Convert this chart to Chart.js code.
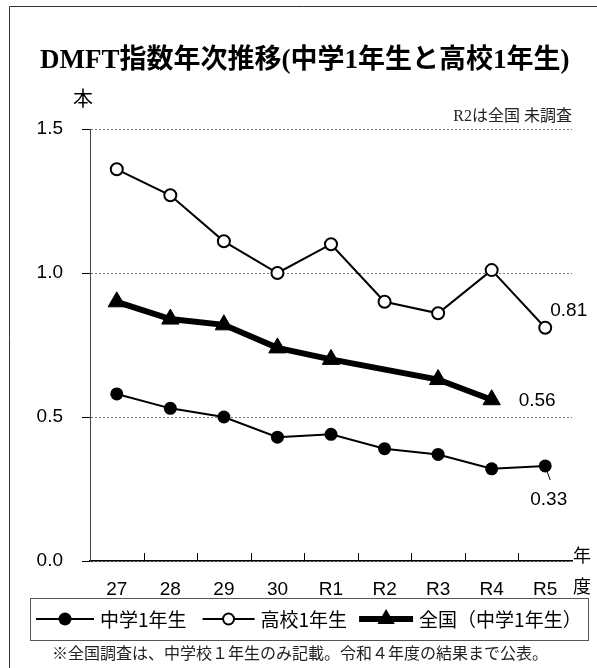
<!DOCTYPE html>
<html lang="ja">
<head>
<meta charset="utf-8">
<title>DMFT指数年次推移</title>
<script src="https://cdn.jsdelivr.net/npm/chart.js"></script>
<style>
  body { margin: 0; background: #fff; }
  canvas { display: block; }
</style>
</head>
<body>
<canvas id="myChart" width="597" height="668"></canvas>
<script>
"use strict";
const years = ["27", "28", "29", "30", "R1", "R2", "R3", "R4", "R5"];
const juniorHigh = [0.58, 0.53, 0.50, 0.43, 0.44, 0.39, 0.37, 0.32, 0.33];
const highSchool = [1.36, 1.27, 1.11, 1.00, 1.10, 0.90, 0.86, 1.01, 0.81];
const nationwide = [0.90, 0.84, 0.82, 0.74, 0.70, null, 0.63, 0.56, null];
const yTicks = [0, 0.5, 1.0, 1.5];
const seriesNames = ["中学1年生", "高校1年生", "全国（中学1年生）"];

const titleText = "DMFT指数年次推移(中学1年生と高校1年生)";
const noteText = "R2は全国 未調査";
const footText = "※全国調査は、中学校１年生のみ記載。令和４年度の結果まで公表。";

const sans = "'Liberation Sans', 'Noto Sans CJK JP', sans-serif";
const jp = "'Noto Sans CJK JP', sans-serif";

// labels at end of lines: dataset index, point index, dx, dy
const endLabels = [
    { ds: 1, i: 8, dx: 5, dy: -17 },
    { ds: 2, i: 7, dx: 27, dy: 1 },
    { ds: 0, i: 8, dx: -15, dy: 34 }
];

function drawMarker(ctx, style, x, y) {
    ctx.save();
    ctx.strokeStyle = "#000";
    ctx.fillStyle = "#000";
    if (style === "dot") {
        ctx.beginPath();
        ctx.arc(x, y, 6.5, 0, Math.PI * 2);
        ctx.fill();
    } else if (style === "ring") {
        ctx.beginPath();
        ctx.arc(x, y, 5.5, 0, Math.PI * 2);
        ctx.fillStyle = "#fff";
        ctx.fill();
        ctx.lineWidth = 2;
        ctx.stroke();
    } else {
        const r = 10;
        ctx.beginPath();
        ctx.moveTo(x, y - r);
        ctx.lineTo(x + r * 0.866, y + r / 2);
        ctx.lineTo(x - r * 0.866, y + r / 2);
        ctx.closePath();
        ctx.fill();
    }
    ctx.restore();
}

const extras = {
    id: "extras",
    afterDraw(chart) {
        const ctx = chart.ctx;
        const area = chart.chartArea;
        const x = chart.scales.x;
        ctx.save();

        // frame
        ctx.strokeStyle = "#333";
        ctx.lineWidth = 1;
        ctx.beginPath();
        ctx.moveTo(9.5, 668);
        ctx.lineTo(9.5, 6.5);
        ctx.lineTo(597, 6.5);
        ctx.stroke();

        // x ticks pointing up, between categories
        ctx.strokeStyle = "#000";
        ctx.beginPath();
        for (let i = 1; i < years.length; i++) {
            const px = Math.round(x.getPixelForValue(i - 0.5)) + 0.5;
            ctx.moveTo(px, area.bottom);
            ctx.lineTo(px, area.bottom - 8);
        }
        ctx.stroke();

        // title
        ctx.fillStyle = "#000";
        ctx.textBaseline = "alphabetic";
        ctx.textAlign = "left";
        let size = 26;
        ctx.font = "bold " + size + "px 'Liberation Serif', 'Noto Sans CJK JP', serif";
        size = size * 529 / ctx.measureText(titleText).width;
        ctx.font = "bold " + size.toFixed(1) + "px 'Liberation Serif', 'Noto Sans CJK JP', serif";
        ctx.fillText(titleText, 40, 68);

        // unit and axis words
        ctx.textBaseline = "middle";
        ctx.textAlign = "center";
        ctx.font = "20px " + jp;
        ctx.fillText("本", 83, 98);
        ctx.font = "18px " + jp;
        ctx.fillText("年", 582, 555);
        ctx.fillText("度", 582, 586);

        ctx.textAlign = "right";
        ctx.fillStyle = "#222";
        ctx.font = "16px 'Liberation Serif', 'Noto Sans CJK JP', serif";
        ctx.fillText(noteText, area.right, 117);

        // end values
        ctx.fillStyle = "#000";
        ctx.textAlign = "left";
        ctx.font = "19px " + sans;
        const sets = [juniorHigh, highSchool, nationwide];
        endLabels.forEach(function (lab) {
            const pt = chart.getDatasetMeta(lab.ds).data[lab.i];
            ctx.fillText(sets[lab.ds][lab.i].toFixed(2), pt.x + lab.dx, pt.y + lab.dy);
        });
        const last = chart.getDatasetMeta(0).data[8];
        ctx.beginPath();
        ctx.moveTo(last.x + 2, last.y + 6);
        ctx.lineTo(last.x + 5, last.y + 14);
        ctx.stroke();

        // legend box
        ctx.strokeStyle = "#555";
        ctx.lineWidth = 1;
        ctx.strokeRect(30.5, 598.5, 558, 42);
        ctx.font = "19px " + jp;
        const styles = ["dot", "ring", "tri"];
        const widths = [2, 2, 6];
        const lens = [58, 52, 54];
        const gapsAfter = [16, 12, 0];
        let lx = 36;
        const ly = 619;
        for (let k = 0; k < 3; k++) {
            ctx.strokeStyle = "#000";
            ctx.lineWidth = widths[k];
            ctx.beginPath();
            ctx.moveTo(lx, ly);
            ctx.lineTo(lx + lens[k], ly);
            ctx.stroke();
            drawMarker(ctx, styles[k], lx + lens[k] / 2, ly);
            ctx.fillStyle = "#000";
            ctx.fillText(seriesNames[k], lx + lens[k] + 6, ly + 1);
            lx += lens[k] + 6 + ctx.measureText(seriesNames[k]).width + gapsAfter[k];
        }

        // footnote
        ctx.fillStyle = "#222";
        ctx.font = "16px " + jp;
        ctx.fillText(footText, 52, 653);
        ctx.restore();
    }
};

function zeroPadding(scale) {
    scale.paddingTop = 0;
    scale.paddingBottom = 0;
    scale.paddingLeft = 0;
    scale.paddingRight = 0;
}

const graphicObjet = {
    type: "line",
    data: {
        labels: years,
        datasets: [{
                label: seriesNames[0],
                data: juniorHigh,
                borderColor: "#000",
                borderWidth: 2,
                pointStyle: "circle",
                pointRadius: 6.5,
                pointBackgroundColor: "#000",
                pointBorderColor: "#000",
                pointBorderWidth: 0
            }, {
                label: seriesNames[1],
                data: highSchool,
                borderColor: "#000",
                borderWidth: 2,
                pointStyle: "circle",
                pointRadius: 6,
                pointBackgroundColor: "#fff",
                pointBorderColor: "#000",
                pointBorderWidth: 2
            }, {
                label: seriesNames[2],
                data: nationwide,
                borderColor: "#000",
                borderWidth: 6,
                spanGaps: true,
                pointStyle: "triangle",
                pointRadius: 10,
                pointBackgroundColor: "#000",
                pointBorderColor: "#000",
                pointBorderWidth: 1
            }]
    },
    options: {
        responsive: false,
        animation: false,
        events: [],
        layout: {
            padding: { left: 0, right: 25, top: 129, bottom: 0 }
        },
        plugins: {
            legend: { display: false },
            title: { display: false },
            tooltip: { enabled: false }
        },
        elements: {
            line: { tension: 0 }
        },
        scales: {
            x: {
                type: "category",
                offset: true,
                grid: { display: false },
                border: { display: true, color: "#000", width: 1.5 },
                ticks: {
                    color: "#000",
                    padding: 9,
                    font: { family: sans, size: 19 }
                },
                afterFit(scale) {
                    scale.height = 107;
                    zeroPadding(scale);
                }
            },
            y: {
                min: 0,
                max: 1.5,
                afterBuildTicks(scale) {
                    scale.ticks = yTicks.map(function (v) { return { value: v }; });
                },
                grid: {
                    color: "#777",
                    lineWidth: 1,
                    tickColor: "#000",
                    tickLength: 8,
                    tickBorderDash: []
                },
                border: { display: true, color: "#444", width: 1, dash: [2, 2] },
                ticks: {
                    color: "#000",
                    padding: 19,
                    font: { family: sans, size: 19 },
                    callback: function (v) { return Number(v).toFixed(1); }
                },
                afterFit(scale) {
                    scale.width = 90;
                    zeroPadding(scale);
                }
            }
        }
    },
    plugins: [extras]
};

const ctx = document.getElementById("myChart");
new Chart(ctx, graphicObjet);
</script>
</body>
</html>
